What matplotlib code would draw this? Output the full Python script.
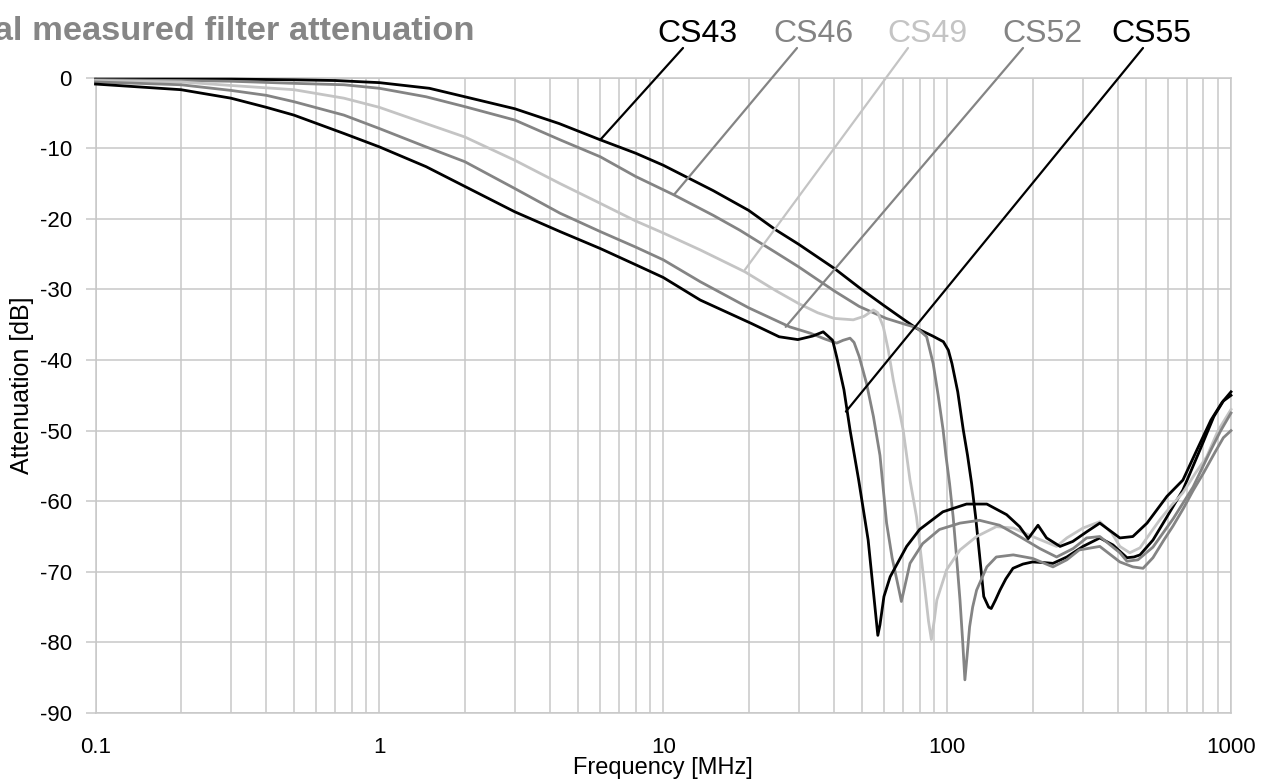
import matplotlib
matplotlib.use('Agg')
import matplotlib.pyplot as plt
from matplotlib.ticker import FixedLocator, FixedFormatter, NullFormatter

plt.rcParams['font.family'] = ['Liberation Sans', 'DejaVu Sans']
plt.rcParams['axes.unicode_minus'] = False

# ---------------- data ----------------
series_names = ["CS43", "CS46", "CS49", "CS52", "CS55"]
series_colors = ["#000000", "#848484", "#c4c4c4", "#848484", "#000000"]

f_cs43 = [0.1, 0.2, 0.3, 0.5, 0.7, 1.0, 1.5, 2.0, 3.0, 4.3, 6.0, 8.0, 10, 15, 20, 25, 30, 40, 50, 60,
          70, 78, 89, 97, 101, 104, 109, 114, 118, 122, 126, 130, 134.6, 140, 143, 148, 153.5, 161,
          170.6, 185, 200, 220, 236, 264, 301, 345, 384, 430, 455, 478, 531, 595, 677, 778, 870, 940, 1000]
a_cs43 = [-0.2, -0.2, -0.2, -0.3, -0.4, -0.7, -1.5, -2.7, -4.4, -6.5, -8.8, -10.7, -12.4, -16.0, -18.8,
          -21.6, -23.6, -27.0, -30.0, -32.3, -34.2, -35.5, -36.6, -37.4, -38.6, -40.5, -44.5, -49.9,
          -53.5, -57.5, -62.2, -67.5, -73.5, -75.0, -75.2, -74.0, -72.6, -71.0, -69.5, -68.9, -68.6,
          -68.7, -68.8, -67.9, -66.4, -65.2, -66.2, -68.0, -67.9, -67.6, -65.5, -62.2, -58.4, -52.7,
          -48.0, -45.8, -45.0]

f_cs46 = [0.1, 0.2, 0.3, 0.5, 0.75, 1.0, 1.46, 2.0, 3.0, 4.33, 6, 8, 10.9, 15, 18.6, 25, 30, 40, 49, 61,
          72, 78, 84.7, 89.3, 93, 96.8, 99, 102, 105, 108, 111, 113.5, 115.5, 117.5, 120, 123, 127, 138,
          149, 171, 200, 236, 264, 292, 345, 406, 451, 490, 531, 580, 625, 680, 735, 800, 880, 940, 1000]
a_cs46 = [-0.3, -0.4, -0.5, -0.8, -1.0, -1.5, -2.7, -4.1, -6.0, -8.8, -11.2, -14.0, -16.6, -19.5, -21.6,
          -24.8, -26.8, -30.2, -32.4, -34.1, -35.0, -35.4, -36.7, -40.5, -45.0, -49.9, -53.5, -57.5,
          -62.2, -68.0, -74.0, -80.0, -85.3, -82.0, -77.8, -75.0, -72.6, -69.3, -67.9, -67.6, -68.1,
          -69.3, -68.3, -66.9, -66.4, -68.6, -69.3, -69.5, -68.0, -65.5, -63.5, -61.0, -58.5, -56.0,
          -53.0, -51.0, -50.0]

f_cs49 = [0.1, 0.2, 0.3, 0.5, 0.75, 1.0, 1.46, 2.0, 3.0, 4.33, 6, 8, 10, 13.5, 19.4, 25, 30, 35, 40, 46.7,
          51, 55, 57, 59.6, 62, 64.6, 70, 74, 78, 83.6, 86, 88, 90, 92, 99.6, 111, 127, 149, 171, 200,
          243, 264, 301, 345, 380, 406, 440, 478, 520, 562, 620, 677, 750, 821, 900, 1000]
a_cs49 = [-0.4, -0.6, -1.1, -1.7, -2.9, -4.2, -6.5, -8.4, -11.7, -15.0, -17.8, -20.3, -22.0, -24.4,
          -27.5, -30.2, -32.0, -33.3, -34.1, -34.3, -33.8, -32.9, -33.3, -35.3, -38.5, -42.8, -49.9,
          -57.0, -62.2, -72.6, -77.0, -79.6, -77.0, -74.0, -69.7, -66.9, -65.0, -63.6, -63.8, -65.0,
          -66.4, -65.2, -63.8, -62.9, -64.5, -66.4, -67.3, -66.6, -64.5, -62.6, -60.5, -58.8, -56.0,
          -53.7, -50.0, -47.0]

f_cs52 = [0.1, 0.2, 0.3, 0.4, 0.5, 0.75, 1.0, 1.46, 2.0, 3.0, 4.33, 6, 8, 10, 13.5, 20, 27.9, 33, 37,
          40.8, 43, 45.5, 47, 49, 52, 55, 58, 61.2, 64, 67.7, 69, 71, 74, 82, 94, 111, 130, 153, 180,
          212, 243, 278, 310, 345, 406, 430, 470, 531, 625, 735, 843, 920, 1000]
a_cs52 = [-0.6, -1.0, -1.8, -2.5, -3.4, -5.3, -7.2, -9.8, -11.9, -15.7, -19.2, -21.8, -24.0, -25.8,
          -28.9, -32.6, -35.3, -36.2, -37.0, -37.6, -37.2, -36.9, -37.5, -39.5, -43.3, -48.0, -53.5,
          -63.1, -68.0, -72.6, -74.2, -72.0, -68.8, -66.0, -64.0, -63.1, -62.7, -63.4, -65.0, -66.7,
          -67.9, -66.7, -65.2, -65.0, -67.3, -68.5, -68.3, -66.5, -62.5, -58.0, -53.0, -50.0, -47.5]

f_cs55 = [0.1, 0.2, 0.3, 0.4, 0.5, 0.75, 1.0, 1.46, 2.0, 3.0, 4.33, 6, 8, 10, 13.5, 20.4, 25.6, 29.8,
          33.6, 36.6, 39.5, 40.8, 43.3, 45.5, 48.8, 52.7, 55.5, 57, 58, 59.9, 63, 72, 80, 96.6, 117,
          138, 162, 180, 193, 209, 224, 250, 277, 311, 345, 406, 451, 506, 595, 677, 759, 850, 930, 1000]
a_cs55 = [-0.9, -1.7, -2.9, -4.2, -5.3, -7.9, -9.8, -12.6, -15.4, -19.0, -21.8, -24.2, -26.5, -28.3,
          -31.5, -34.8, -36.7, -37.1, -36.6, -36.0, -37.2, -39.5, -44.2, -49.9, -57.0, -65.5, -74.4,
          -79.0, -77.5, -73.5, -70.7, -66.4, -64.0, -61.5, -60.4, -60.4, -61.9, -63.6, -65.3, -63.4,
          -65.2, -66.4, -65.7, -64.3, -63.1, -65.2, -65.0, -63.1, -59.3, -57.0, -52.7, -48.5, -46.0,
          -44.5]

series_f = [f_cs43, f_cs46, f_cs49, f_cs52, f_cs55]
series_a = [a_cs43, a_cs46, a_cs49, a_cs52, a_cs55]

# leader line end points on the curves (frequency MHz, attenuation dB)
leader_f = [6.0, 10.9, 19.4, 27.0, 44.0]
leader_a = [-8.8, -16.6, -27.2, -35.3, -47.3]

x_ticks = [0.1, 1, 10, 100, 1000]
x_tick_labels = ["0.1", "1", "10", "100", "1000"]
y_ticks = [0, -10, -20, -30, -40, -50, -60, -70, -80, -90]
y_tick_labels = ["0", "-10", "-20", "-30", "-40", "-50", "-60", "-70", "-80", "-90"]

# ---------------- layout ----------------
W, H = 1270, 781
L, R, T, B = 95.5, 1231, 77.7, 713
gridc = "#c8c8c8"

fig = plt.figure(figsize=(W / 100, H / 100), dpi=100)
ax = fig.add_axes([L / W, 1 - B / H, (R - L) / W, (B - T) / H])
ax.set_xscale('log')
ax.set_xlim(0.1, 1000)
ax.set_ylim(-90, 0)

minor = [k * 10.0 ** e for e in range(-1, 3) for k in range(2, 10)]
ax.xaxis.set_major_locator(FixedLocator(x_ticks))
ax.xaxis.set_major_formatter(FixedFormatter(x_tick_labels))
ax.xaxis.set_minor_locator(FixedLocator(minor))
ax.xaxis.set_minor_formatter(NullFormatter())
ax.yaxis.set_major_locator(FixedLocator(y_ticks))
ax.yaxis.set_major_formatter(FixedFormatter(y_tick_labels))

ax.grid(which='both', axis='x', color=gridc, lw=1.1)
ax.grid(which='major', axis='y', color=gridc, lw=1.1)
ax.set_axisbelow(True)
for s in ax.spines.values():
    s.set_color(gridc)
    s.set_linewidth(1.1)

ax.tick_params(axis='x', which='both', length=0, pad=17, labelsize=16, labelcolor='black')
ax.tick_params(axis='y', which='both', length=7, width=1.1, color=gridc, pad=10,
               labelsize=16, labelcolor='black')

for f, a, c in zip(series_f, series_a, series_colors):
    ax.plot(f, a, color=c, lw=2.0, solid_joinstyle='round', clip_on=False, zorder=3)

label_x = [697, 813, 927, 1042, 1151]
leader_top_x = [683, 797, 908, 1023, 1143]
for name, c, lx, tx, lf, la in zip(series_names, series_colors, label_x, leader_top_x,
                                   leader_f, leader_a):
    fig.text(lx / W, 1 - 42 / H, name, ha='center', va='baseline', fontsize=23, color=c)
    ax.annotate('', xy=(lf, la), xycoords='data', xytext=(tx, H - 48),
                textcoords='figure pixels',
                arrowprops=dict(arrowstyle='-', color=c, lw=1.6, shrinkA=0, shrinkB=0),
                annotation_clip=False, zorder=4)

fig.text(475 / W, 1 - 40 / H, "Typical measured filter attenuation", ha='right', va='baseline',
         fontsize=24.8, fontweight='bold', color='#868686')
fig.text((L + R) / 2 / W, 1 - 768 / H, "Frequency [MHz]", ha='center', va='center', fontsize=17)
fig.text(22 / W, 1 - 385 / H, "Attenuation [dB]", ha='center', va='center', rotation=90,
         fontsize=18)

fig.savefig("out.png", dpi=100)
